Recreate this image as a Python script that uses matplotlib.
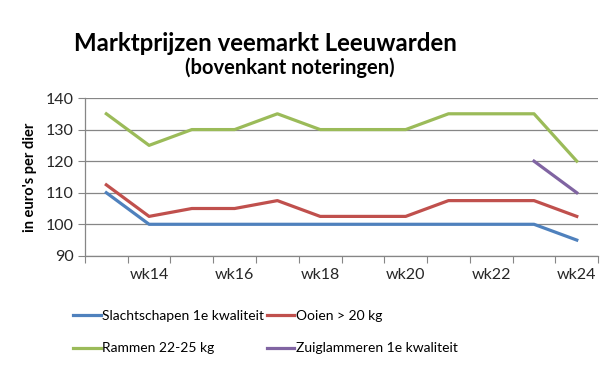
import numpy as np
import matplotlib

matplotlib.use("Agg")
import matplotlib.pyplot as plt

# weeks wk13 .. wk24
weeks = ["wk13", "wk14", "wk15", "wk16", "wk17", "wk18",
         "wk19", "wk20", "wk21", "wk22", "wk23", "wk24"]
slachtschapen = [110, 100, 100, 100, 100, 100, 100, 100, 100, 100, 100, 95]
ooien = [112.5, 102.5, 105, 105, 107.5, 102.5, 102.5, 102.5, 107.5, 107.5, 107.5, 102.5]
rammen = [135, 125, 130, 130, 135, 130, 130, 130, 135, 135, 135, 120]
zuiglammeren = [None] * 10 + [120, 110]

BLUE = "#4f81bd"
RED = "#c0504d"
GREEN = "#9bbb59"
PURPLE = "#8064a2"
GRID = "#868686"
FONT = ["Lato", "DejaVu Sans"]

plt.rcParams["font.family"] = FONT

fig = plt.figure(figsize=(6.11, 3.65), dpi=100, facecolor="white")
ax = fig.add_axes([0.139, 0.299, 0.840, 0.4325])

x = np.arange(len(weeks))
zl = np.array([np.nan if v is None else v for v in zuiglammeren], dtype=float)

l_blue, = ax.plot(x, slachtschapen, color=BLUE, lw=2.3, label="Slachtschapen 1e kwaliteit")
l_red, = ax.plot(x, ooien, color=RED, lw=2.3, label="Ooien > 20 kg")
l_green, = ax.plot(x, rammen, color=GREEN, lw=2.3, label="Rammen 22-25 kg")
l_purple, = ax.plot(x, zl, color=PURPLE, lw=2.3, label="Zuiglammeren 1e kwaliteit")

ax.set_xlim(-0.5, len(weeks) - 0.5)
ax.set_ylim(90, 140)
ax.set_yticks(range(90, 141, 10))
ax.yaxis.grid(True, color=GRID, lw=0.9)
ax.set_axisbelow(True)

# category axis: ticks between categories, labels on every other week
ax.set_xticks(np.arange(-0.5, len(weeks), 1.0))
ax.set_xticklabels([])
ax.set_xticks(x[1::2], minor=True)
ax.set_xticklabels(weeks[1::2], minor=True)
ax.tick_params(axis="x", which="major", length=5, color=GRID, direction="out")
ax.tick_params(axis="x", which="minor", length=0, pad=9, labelsize=11.5, labelcolor="#262626")
ax.tick_params(axis="y", length=5, color=GRID, labelsize=11.5, labelcolor="#262626", pad=3)

for side in ("top", "right"):
    ax.spines[side].set_visible(False)
for side in ("left", "bottom"):
    ax.spines[side].set_color(GRID)
    ax.spines[side].set_linewidth(0.9)

ax.set_ylabel("in euro's per dier", fontsize=10.5, fontweight="bold", labelpad=6)

fig.text(0.435, 0.88, "Marktprijzen veemarkt Leeuwarden", ha="center", va="center",
         fontsize=17.3, fontweight="bold", color="black")
fig.text(0.475, 0.815, "(bovenkant noteringen)", ha="center", va="center",
         fontsize=14.5, fontweight="bold", color="black")

fig.legend(handles=[l_blue, l_green, l_red, l_purple], ncol=2,
           loc="upper left", bbox_to_anchor=(0.11, 0.165), frameon=False,
           fontsize=10, handlelength=2.0, handletextpad=0.1, columnspacing=0.2,
           labelspacing=1.45, borderaxespad=0)

fig.savefig("out.png", dpi=100, facecolor="white")
